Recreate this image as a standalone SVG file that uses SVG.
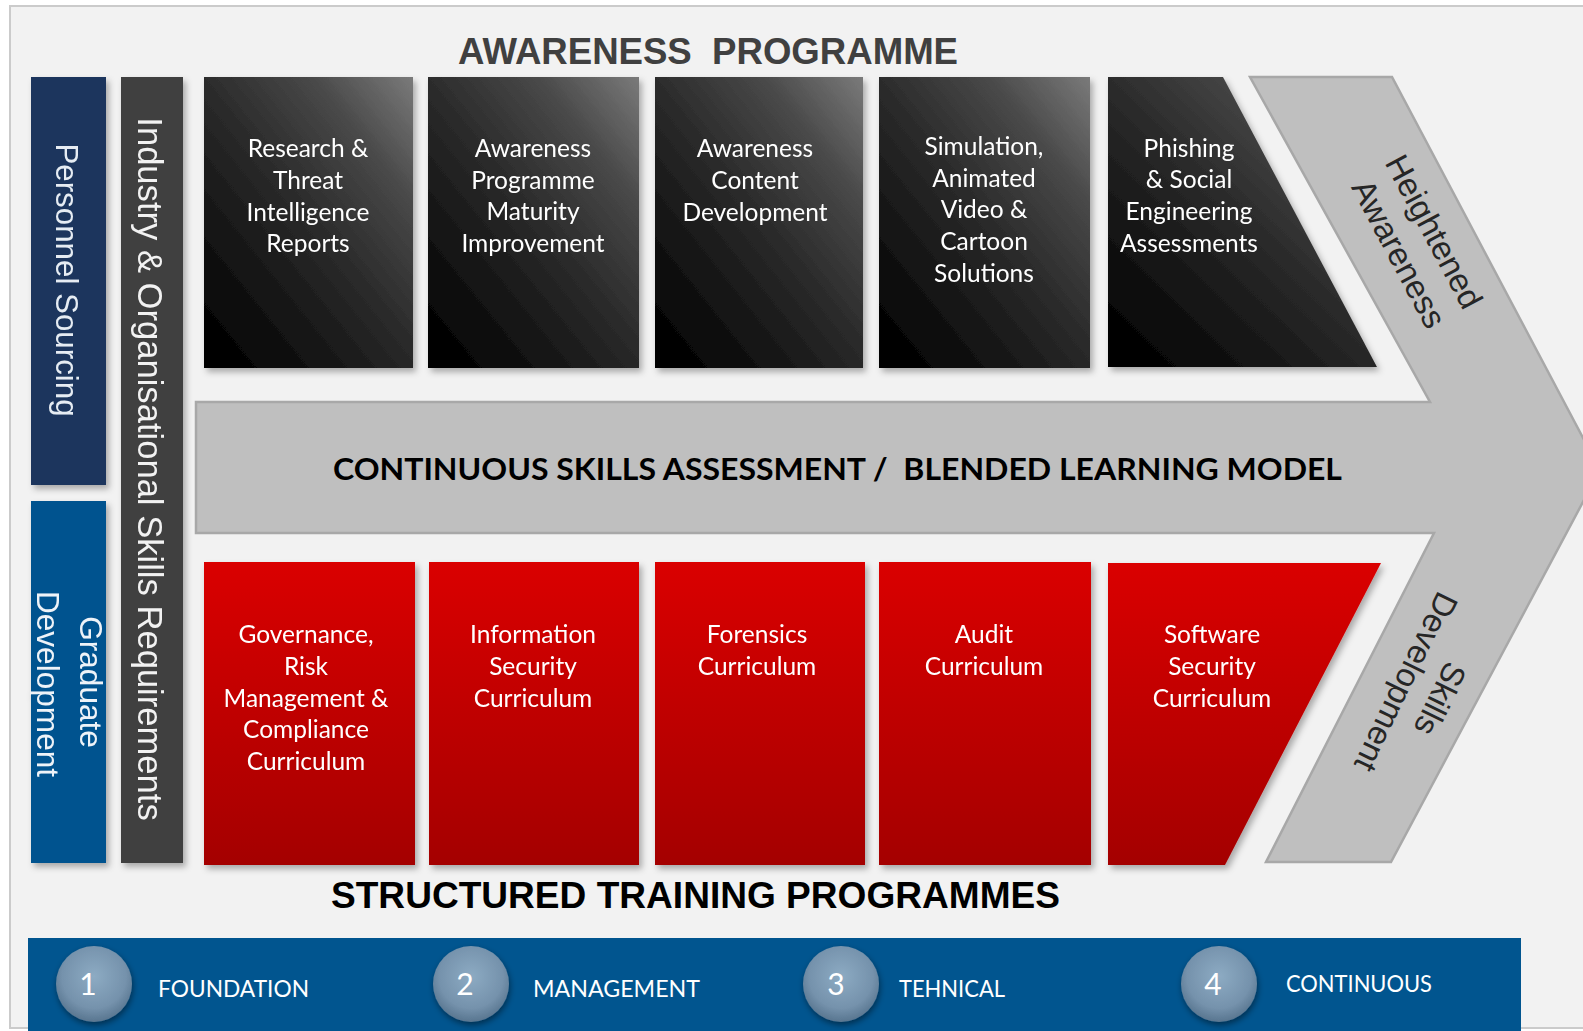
<svg xmlns="http://www.w3.org/2000/svg" width="1583" height="1031" viewBox="0 0 1583 1031">
<defs>
<style>
.bt{font-family:Lato,"Open Sans",sans-serif;font-size:24.5px;fill:#ffffff;text-anchor:middle}
.vt{font-family:"Liberation Sans",Arial,sans-serif;text-anchor:middle}
.ar{font-family:"Liberation Sans",Arial,sans-serif;font-size:33px;fill:#262626;text-anchor:middle}
.num{font-family:Lato,"Open Sans",sans-serif;font-size:30px;fill:#ffffff;text-anchor:middle}
.lbl{font-family:Lato,"Open Sans",sans-serif;font-size:23px;fill:#ffffff}
.ttl{font-family:"Liberation Sans",Arial,sans-serif;font-weight:bold;font-size:36px;white-space:pre}
</style>
<linearGradient id="dark" x1="1" y1="0" x2="0.1" y2="1">
<stop offset="0" stop-color="#7a7a7a"/>
<stop offset="0.25" stop-color="#484848"/>
<stop offset="0.5" stop-color="#2c2c2c"/>
<stop offset="0.75" stop-color="#161616"/>
<stop offset="1" stop-color="#000000"/>
</linearGradient>
<linearGradient id="red" x1="0" y1="0" x2="0" y2="1">
<stop offset="0" stop-color="#da0000"/>
<stop offset="1" stop-color="#a40000"/>
</linearGradient>
<radialGradient id="btn" cx="0.5" cy="0.4" r="0.6">
<stop offset="0" stop-color="#8dabc3"/>
<stop offset="0.7" stop-color="#7592ac"/>
<stop offset="1" stop-color="#58758f"/>
</radialGradient>
<filter id="sh" x="-10%" y="-10%" width="125%" height="125%">
<feDropShadow dx="3" dy="4" stdDeviation="3" flood-color="#000" flood-opacity="0.3"/>
</filter>
<filter id="csh" x="-30%" y="-30%" width="160%" height="160%">
<feDropShadow dx="1" dy="3" stdDeviation="3" flood-color="#000" flood-opacity="0.45"/>
</filter>
</defs>
<rect x="0" y="0" width="1583" height="1031" fill="#ffffff"/>
<rect id="panel" x="10" y="6" width="1600" height="1022" fill="#f2f2f2" stroke="#cbcbcb" stroke-width="2"/>

<text class="ttl" x="458" y="64" fill="#404040" textLength="500" lengthAdjust="spacingAndGlyphs">AWARENESS  PROGRAMME</text>

<g id="connectors">
<path id="chevron" d="M196,402 L1430,402 L1250,77 L1392,77 L1600,470 L1391,862 L1266,862 L1434,533 L196,533 Z" fill="#bfbfbf" stroke="#a8a8a8" stroke-width="2.5" stroke-linejoin="miter"/>
</g>
<text x="333" y="480" font-family="Lato,'Open Sans',sans-serif" font-weight="bold" font-size="31" fill="#000" style="white-space:pre" textLength="1009" lengthAdjust="spacingAndGlyphs">CONTINUOUS SKILLS ASSESSMENT /  BLENDED LEARNING MODEL</text>
<g id="heightened-awareness">
<text class="ar" transform="translate(1424,237) rotate(62)">Heightened</text>
<text class="ar" transform="translate(1389,259) rotate(62)">Awareness</text>
</g>
<g id="skills-development">
<text class="ar" font-size="34" transform="translate(1430,694) rotate(116)">Skills</text>
<text class="ar" font-size="34" transform="translate(1396,677) rotate(116)">Development</text>
</g>

<g id="personnel-sourcing" filter="url(#sh)">
<rect x="31" y="77" width="75" height="408" fill="#1a365d"/>
<text class="vt" font-size="31.3" fill="#e6ecf3" transform="translate(56,280) rotate(90)">Personnel Sourcing</text>
</g>
<g id="graduate-development" filter="url(#sh)">
<rect x="31" y="501" width="75" height="362" fill="#02538f"/>
<text class="vt" font-size="31.6" fill="#eef3f8" transform="translate(80,682) rotate(90)">Graduate</text>
<text class="vt" font-size="31.6" fill="#eef3f8" transform="translate(37,684) rotate(90)">Development</text>
</g>
<g id="industry-requirements" filter="url(#sh)">
<rect x="121" y="77" width="62" height="786" fill="#404040"/>
<text class="vt" font-size="34.6" fill="#f2f2f2" transform="translate(138,469) rotate(90)">Industry &amp; Organisational Skills Requirements</text>
</g>

<g id="research-reports" filter="url(#sh)">
<rect x="204" y="77" width="209" height="291" fill="url(#dark)"/>
<text class="bt"><tspan x="308" y="157">Research &amp;</tspan><tspan x="308" y="189">Threat</tspan><tspan x="308" y="221">Intelligence</tspan><tspan x="308" y="252">Reports</tspan></text>
</g>
<g id="maturity-improvement" filter="url(#sh)">
<rect x="428" y="77" width="211" height="291" fill="url(#dark)"/>
<text class="bt"><tspan x="533" y="157">Awareness</tspan><tspan x="533" y="189">Programme</tspan><tspan x="533" y="220">Maturity</tspan><tspan x="533" y="252">Improvement</tspan></text>
</g>
<g id="content-development" filter="url(#sh)">
<rect x="655" y="77" width="208" height="291" fill="url(#dark)"/>
<text class="bt"><tspan x="755" y="157">Awareness</tspan><tspan x="755" y="189">Content</tspan><tspan x="755" y="221">Development</tspan></text>
</g>
<g id="simulation" filter="url(#sh)">
<rect x="879" y="77" width="211" height="291" fill="url(#dark)"/>
<text class="bt"><tspan x="984" y="155">Simulation,</tspan><tspan x="984" y="187">Animated</tspan><tspan x="984" y="218">Video &amp;</tspan><tspan x="984" y="250">Cartoon</tspan><tspan x="984" y="282">Solutions</tspan></text>
</g>
<g id="phishing" filter="url(#sh)">
<path d="M1108,77 L1223,77 L1377,367 L1108,367 Z" fill="url(#dark)"/>
<text class="bt"><tspan x="1189" y="157">Phishing</tspan><tspan x="1189" y="188">&amp; Social</tspan><tspan x="1189" y="220">Engineering</tspan><tspan x="1189" y="252">Assessments</tspan></text>
</g>

<g id="grc-curriculum" filter="url(#sh)">
<rect x="204" y="562" width="211" height="303" fill="url(#red)"/>
<text class="bt"><tspan x="306" y="643">Governance,</tspan><tspan x="306" y="675">Risk</tspan><tspan x="306" y="707">Management &amp;</tspan><tspan x="306" y="738">Compliance</tspan><tspan x="306" y="770">Curriculum</tspan></text>
</g>
<g id="infosec-curriculum" filter="url(#sh)">
<rect x="429" y="562" width="210" height="303" fill="url(#red)"/>
<text class="bt"><tspan x="533" y="643">Information</tspan><tspan x="533" y="675">Security</tspan><tspan x="533" y="707">Curriculum</tspan></text>
</g>
<g id="forensics-curriculum" filter="url(#sh)">
<rect x="655" y="562" width="210" height="303" fill="url(#red)"/>
<text class="bt"><tspan x="757" y="643">Forensics</tspan><tspan x="757" y="675">Curriculum</tspan></text>
</g>
<g id="audit-curriculum" filter="url(#sh)">
<rect x="879" y="562" width="212" height="303" fill="url(#red)"/>
<text class="bt"><tspan x="984" y="643">Audit</tspan><tspan x="984" y="675">Curriculum</tspan></text>
</g>
<g id="software-curriculum" filter="url(#sh)">
<path d="M1108,563 L1381,563 L1225,865 L1108,865 Z" fill="url(#red)"/>
<text class="bt"><tspan x="1212" y="643">Software</tspan><tspan x="1212" y="675">Security</tspan><tspan x="1212" y="707">Curriculum</tspan></text>
</g>

<text class="ttl" x="331" y="908" fill="#000" textLength="729" lengthAdjust="spacingAndGlyphs">STRUCTURED TRAINING PROGRAMMES</text>

<g id="levels-bar">
<rect x="28" y="938" width="1493" height="100" fill="#01558f"/>
</g>
<g id="level-1">
<circle cx="94" cy="984" r="38" fill="url(#btn)" filter="url(#csh)"/>
<text class="num" x="88" y="995">1</text>
<text class="lbl" x="158" y="997" textLength="151" lengthAdjust="spacingAndGlyphs">FOUNDATION</text>
</g>
<g id="level-2">
<circle cx="471" cy="984" r="38" fill="url(#btn)" filter="url(#csh)"/>
<text class="num" x="465" y="995">2</text>
<text class="lbl" x="533" y="997" textLength="167" lengthAdjust="spacingAndGlyphs">MANAGEMENT</text>
</g>
<g id="level-3">
<circle cx="841" cy="984" r="38" fill="url(#btn)" filter="url(#csh)"/>
<text class="num" x="836" y="995">3</text>
<text class="lbl" x="899" y="997" textLength="106" lengthAdjust="spacingAndGlyphs">TEHNICAL</text>
</g>
<g id="level-4">
<circle cx="1219" cy="984" r="38" fill="url(#btn)" filter="url(#csh)"/>
<text class="num" x="1213" y="995">4</text>
<text class="lbl" x="1286" y="992" textLength="146" lengthAdjust="spacingAndGlyphs">CONTINUOUS</text>
</g>
</svg>
